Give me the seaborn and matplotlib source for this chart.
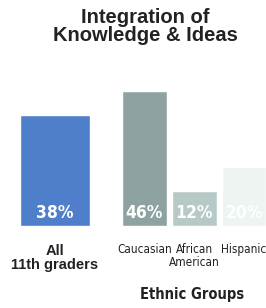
import matplotlib
matplotlib.use('Agg')
import matplotlib.pyplot as plt
import seaborn as sns

title = 'Integration of\nKnowledge & Ideas'
all_label = 'All\n11th graders'
all_value = [38]
groups = ['Caucasian', 'African\nAmerican', 'Hispanic']
group_values = [46, 12, 20]
all_color = '#4f7ecb'
group_colors = ['#8ea2a2', '#b7c9c7', '#eef4f2']
value_labels_all = ['38%']
value_labels_groups = ['46%', '12%', '20%']

sns.set_style('white')
narrow = ['DejaVu Sans Condensed', 'DejaVu Sans']
plt.rcParams['font.family'] = narrow
plt.rcParams['font.stretch'] = 'condensed'

W, H = 266, 308
fig = plt.figure(figsize=(W / 100, H / 100), dpi=100)

base = 82 / H
hgt = 176 / H
ax1 = fig.add_axes([20 / W, base, 70 / W, hgt])
ax2 = fig.add_axes([119.6 / W, base, 149.3 / W, hgt])

sns.barplot(x=['all'], y=all_value, color=all_color, width=1.0,
            saturation=1, ax=ax1)
sns.barplot(x=groups, y=group_values, hue=groups, palette=group_colors,
            width=0.9, saturation=1, legend=False, ax=ax2)

for ax in (ax1, ax2):
    ax.set_ylim(0, 60)
    ax.set_yticks([])
    ax.set_ylabel('')
    sns.despine(ax=ax, left=True, bottom=True)
    ax.tick_params(axis='x', length=0)

ax1.set_xlim(-0.5, 0.5)
ax2.set_xlim(-0.5, 2.5)

for p, lab in zip(ax1.patches, value_labels_all):
    ax1.text(p.get_x() + p.get_width() / 2, 1.5, lab, ha='center',
             va='bottom', color='white', fontsize=12.5, fontweight='bold')
for p, lab in zip(ax2.patches, value_labels_groups):
    ax2.text(p.get_x() + p.get_width() / 2, 1.5, lab, ha='center',
             va='bottom', color='white', fontsize=12.5, fontweight='bold')

ax1.set_xticks([0])
ax1.set_xticklabels([all_label], fontsize=10.5, fontweight='bold',
                    family=['Liberation Sans', 'DejaVu Sans'],
                    stretch='normal', linespacing=1.0, color='#222222')
ax1.tick_params(axis='x', pad=13)

ax2.set_xticks(range(len(groups)))
ax2.set_xticklabels(groups, fontsize=8.5, linespacing=1.0, color='#222222')
ax2.tick_params(axis='x', pad=12)
ax2.set_xlabel('Ethnic Groups', fontsize=10.5, fontweight='bold',
               color='#222222')
ax2.xaxis.set_label_coords((192 - 119.6) / 149.3, -0.345)

fig.text(145 / W, 1 - 8 / H, title, ha='center', va='top', fontsize=14.5,
         fontweight='bold', family=['Liberation Sans', 'DejaVu Sans'],
         stretch='normal', linespacing=0.95, color='#222222')

fig.savefig('out.png', dpi=100)
